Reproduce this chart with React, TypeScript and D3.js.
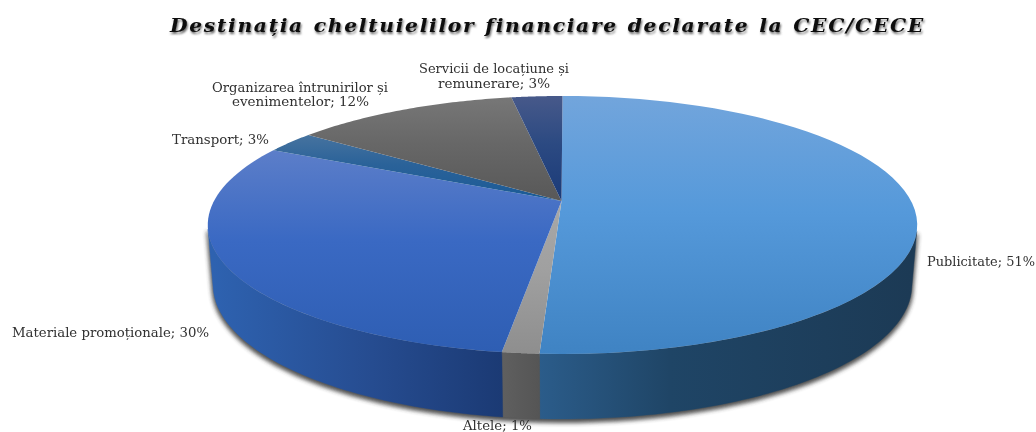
import React from "react";
import * as d3 from "d3";

const categories = ["Publicitate", "Altele", "Materiale promoționale", "Transport", "Organizarea întrunirilor și evenimentelor", "Servicii de locațiune și remunerare"];
const shownPercent = [51, 1, 30, 3, 12, 3];
const sliceValues = [50.85, 1.4, 29.9, 2.75, 12.3, 2.8];
const titleText = "Destinația cheltuielilor financiare declarate la CEC/CECE";

const W = 1036, H = 432;
const topStops = [
  ["#72a5dc", "#5599da", "#3f83c3"],
  ["#a8a8a8", "#a0a0a0", "#8e8e8e"],
  ["#5c7ec9", "#3a69c3", "#2e5eb3"],
  ["#46739f", "#2a6299", "#1a5a96"],
  ["#777777", "#676767", "#585858"],
  ["#47598a", "#2c4a82", "#1a3a78"],
];
const sideStops = [
  { offs: [0, 0.35, 1], cols: ["#2b5c8a", "#1f4566", "#1c3a55"] },
  { offs: [0, 0.5, 1], cols: ["#5f5f5f", "#5a5a5a", "#555555"] },
  { offs: [0, 0.55, 1], cols: ["#2e62b0", "#264c90", "#1b3a74"] },
];
const labelLayout = [
  { lines: ["Publicitate; 51%"], x: 927, y: 266, w: 108 },
  { lines: ["Altele; 1%"], x: 463, y: 430, w: 69 },
  { lines: ["Materiale promoționale; 30%"], x: 12, y: 337, w: 197 },
  { lines: ["Transport; 3%"], x: 172, y: 144, w: 97 },
  { lines: ["Organizarea întrunirilor și", "evenimentelor; 12%"], x: 212, y: 92, w: 176, x2: 232, y2: 106, w2: 137 },
  { lines: ["Servicii de locațiune și", "remunerare; 3%"], x: 419, y: 73, w: 150, x2: 438, y2: 88, w2: 112 },
];

// perspective projection of the pie disc
const CX = 562.5, R = 348, A = 85.4, B = 200, C = -0.1938, DEPTH = 65;
const project = (t: number) => {
  const u = Math.sin(t), v = -Math.cos(t), w = 1 + C * v;
  return [CX + (R * u) / w, (A * v + B) / w] as [number, number];
};
const lower = (t: number) => {
  const [x, y] = project(t);
  const v = -Math.cos(t);
  return [CX + (x - CX) * 0.985, y + DEPTH * (0.9 + 0.1 * v)] as [number, number];
};
const samples = (a: number, b: number) => d3.range(0, 61).map((i) => a + ((b - a) * i) / 60);
const line = d3.line().curve(d3.curveLinear);
const SIDE_A = (104 * Math.PI) / 180, SIDE_B = (257 * Math.PI) / 180;

export default function App() {
  const arcs = d3.pie<number>().sort(null)(sliceValues);
  const apex: [number, number] = [CX - 1, B + 1];
  const tops = arcs.map((a) => line([apex, ...samples(a.startAngle, a.endAngle).map(project)])! + "Z");
  const sides = arcs.map((a) => {
    const s = Math.max(a.startAngle, SIDE_A), e = Math.min(a.endAngle, SIDE_B);
    if (e <= s) return null;
    const ts = samples(s, e);
    const xs = [lower(s)[0], lower(e)[0]];
    return { d: line([...ts.map(project), ...ts.slice().reverse().map(lower)])! + "Z", x0: Math.min(...xs), x1: Math.max(...xs) };
  });
  const shadowTs = samples(SIDE_A, SIDE_B);
  const shadowD = line([...shadowTs.map(project), ...shadowTs.slice().reverse().map(lower)])! + "Z";
  const labelStyle = { fontFamily: "'DejaVu Serif', serif", fontSize: 12.5, fill: "#303030", fontVariantLigatures: "none" } as React.CSSProperties;
  const titleStyle = { fontFamily: "'DejaVu Serif', serif", fontWeight: 700, fontStyle: "italic", fontSize: 18, letterSpacing: 1.5, wordSpacing: 1, fontVariantLigatures: "none" } as React.CSSProperties;

  return (
    <svg width={W} height={H} viewBox={`0 0 ${W} ${H}`} style={{ position: "absolute", left: 0, top: 0, background: "#fff" }}>
      <defs>
        <filter id="blurShadow" x="-10%" y="-10%" width="120%" height="130%"><feGaussianBlur stdDeviation="2.2" /></filter>
        <filter id="titleShadow" x="-5%" y="-30%" width="110%" height="170%"><feGaussianBlur stdDeviation="1.2" /></filter>
        <filter id="soft" x="-5%" y="-30%" width="110%" height="170%"><feGaussianBlur stdDeviation="0.4" /></filter>
        {topStops.map((st, i) => (
          <linearGradient key={i} id={`top${i}`} x1="0" y1="0" x2="0" y2="1">
            <stop offset="0" stopColor={st[0]} />
            <stop offset="0.45" stopColor={st[1]} />
            <stop offset="1" stopColor={st[2]} />
          </linearGradient>
        ))}
        {sides.map((s, i) => s && (
          <linearGradient key={i} id={`side${i}`} gradientUnits="userSpaceOnUse" x1={s.x0} y1="0" x2={s.x1} y2="0">
            {sideStops[i].offs.map((o, k) => <stop key={k} offset={o} stopColor={sideStops[i].cols[k]} />)}
          </linearGradient>
        ))}
      </defs>
      <path d={shadowD} fill="#333" stroke="#333" strokeWidth={3} opacity={0.85} transform="translate(0,2.5)" filter="url(#blurShadow)" />
      {sides.map((s, i) => s && <path key={i} d={s.d} fill={`url(#side${i})`} stroke={`url(#side${i})`} strokeWidth={0.4} />)}
      {tops.map((d, i) => <path key={categories[i]} d={d} fill={`url(#top${i})`} />)}
      <text x={171} y={34} textLength={755} lengthAdjust="spacingAndGlyphs" filter="url(#titleShadow)" style={{ ...titleStyle, fill: "#666" }}>{titleText}</text>
      <text x={170} y={32} textLength={755} lengthAdjust="spacingAndGlyphs" filter="url(#soft)" style={{ ...titleStyle, fill: "#0c0c0c" }}>{titleText}</text>
      <g filter="url(#soft)">
        {labelLayout.map((l, i) => (
          <g key={i}>
            <text x={l.x} y={l.y} textLength={l.w} lengthAdjust="spacingAndGlyphs" style={labelStyle}>{l.lines[0]}</text>
            {l.lines[1] && <text x={l.x2} y={l.y2} textLength={l.w2} lengthAdjust="spacingAndGlyphs" style={labelStyle}>{l.lines[1]}</text>}
          </g>
        ))}
      </g>
    </svg>
  );
}
